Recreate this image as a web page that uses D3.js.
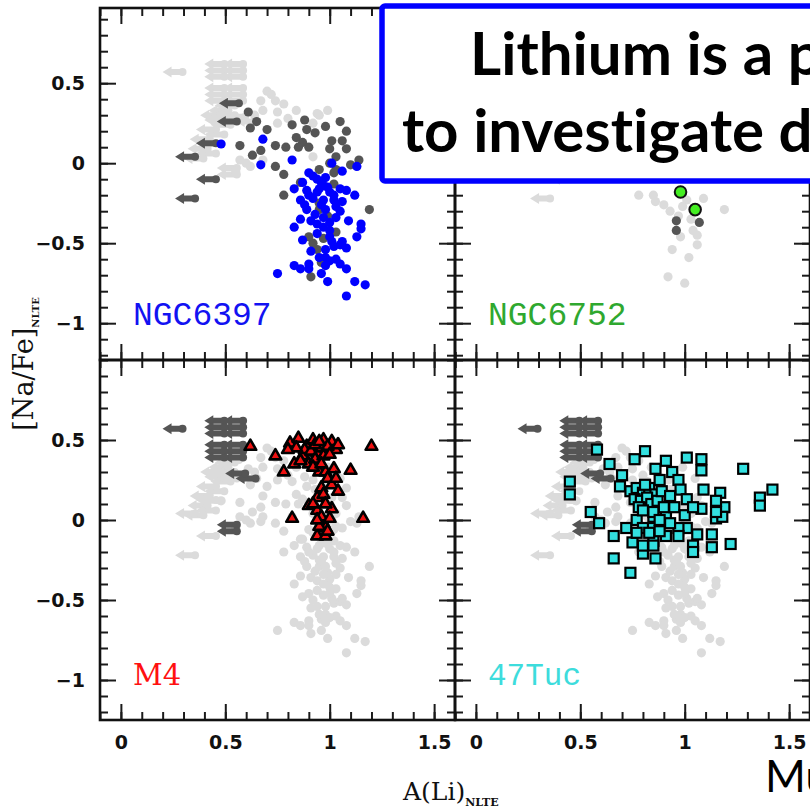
<!DOCTYPE html>
<html>
<head>
<meta charset="utf-8">
<script src="https://cdn.jsdelivr.net/npm/d3@7"></script>
<style>
  body { margin: 0; background: #fff; }
  svg { display: block; }
  .slide { font-variant-ligatures: none; font-feature-settings: "liga" 0; }
</style>
</head>
<body>
<svg id="chart" width="810" height="810"></svg>
<script>
// ---- data: [A(Li), [Na/Fe]] ----
var ngc6397 = [[0.48,0.12],[0.68,0.15],[0.67,-0.01],[0.82,0.02],[1.01,0.0],[1.06,-0.05],[1.13,-0.02],
  [0.90,-0.06],[0.87,-0.12],[0.94,-0.10],[0.98,-0.09],[0.83,-0.16],[0.89,-0.17],[0.95,-0.16],[1.0,-0.18],
  [1.05,-0.16],[1.08,-0.17],[1.12,-0.2],[0.86,-0.23],[0.92,-0.22],[0.97,-0.23],[1.02,-0.23],[1.06,-0.24],
  [0.89,-0.29],[0.98,-0.29],[1.05,-0.30],[0.86,-0.35],[0.91,-0.36],[0.94,-0.38],[1.0,-0.37],[1.09,-0.36],
  [1.15,-0.38],[1.15,-0.41],[0.83,-0.40],[1.0,-0.42],[0.87,-0.48],[1.13,-0.46],[0.91,-0.55],[0.98,-0.54],
  [1.02,-0.52],[1.05,-0.51],[1.08,-0.53],[0.98,-0.59],[1.03,-0.60],[0.98,-0.64],[0.90,-0.63],[0.83,-0.64],
  [0.86,-0.66],[1.08,-0.66],[0.75,-0.69],[0.99,-0.74],[1.12,-0.74],[1.17,-0.76],[1.08,-0.83],[0.94,-0.18],
  [0.97,-0.14],[1.02,-0.2],[0.94,-0.44],[1.01,-0.49],[1.06,-0.49],[0.95,-0.59],[1.0,-0.61],[0.9,-0.66],
  [1.05,-0.63],[0.96,-0.69],[0.92,-0.08],[0.96,-0.12],[0.99,-0.15],[0.9,-0.2],[0.96,-0.26],[1.03,-0.27],
  [0.93,-0.32],[0.97,-0.34],[1.03,-0.34],[0.88,-0.26],[1.0,-0.46],[0.97,-0.4]];

var greyDots = [[0.61,0.32],[0.65,0.26],[0.62,0.22],[0.70,0.21],[0.57,0.11],[0.63,0.05],[0.67,0.08],
  [0.74,0.11],[0.79,0.10],[0.74,-0.02],[0.78,-0.07],[0.82,0.24],[0.88,0.27],[0.89,0.21],[0.84,0.16],
  [0.87,0.13],[0.90,0.10],[0.98,0.23],[1.05,0.26],[1.08,0.20],[1.01,0.14],[1.06,0.14],[1.0,0.09],
  [1.08,0.09],[1.03,0.04],[1.14,0.02],[1.10,-0.01],[1.03,-0.04],[0.78,-0.2],[0.95,-0.04],[0.93,0.19],
  [0.85,0.10],[1.0,0.0],[1.19,-0.29],[0.97,-0.47],[1.03,-0.43],[0.94,-0.54],[0.91,-0.71],[0.86,-0.12],
  [0.95,-0.29],[1.02,-0.13],[0.95,-0.25],[0.99,-0.33],[1.02,-0.06],[0.92,-0.5],[0.96,-0.62],[0.9,-0.46]];

var paleDots = [[0.67,0.39],[0.70,0.45],[0.74,0.39],[0.78,0.37],[0.68,0.33],[0.75,0.32],[0.84,0.33],
  [0.94,0.31],[0.99,0.33],[0.62,-0.02],[0.57,0.02],[0.92,0.04],[0.95,0.3],[0.72,0.43],[0.64,0.3],
  [0.8,0.28],[0.75,0.25],[0.92,0.25],[0.55,-0.05],[0.6,0.0],[0.68,0.02]];

// upper limits (arrows), value = right end of the arrow
var limitsA = [[0.30,0.57],[0.50,0.62],[0.59,0.62],[0.50,0.58],[0.59,0.58],[0.50,0.54],[0.59,0.54],
  [0.50,0.47],[0.59,0.47],[0.50,0.43],[0.59,0.43],[0.50,0.39],[0.59,0.39],[0.60,0.29],[0.65,0.26],
  [0.56,-0.03],[0.56,-0.07]];
var limitsB = [[0.57,0.375],[0.56,0.26],[0.46,0.125],[0.36,0.04],[0.46,-0.10],[0.36,-0.22]];
var limitsC = [[0.55,0.36],[0.52,0.33],[0.48,0.30],[0.55,0.30],[0.50,0.27],[0.53,0.24],[0.46,0.21],
  [0.50,0.18],[0.43,0.15],[0.48,0.12],[0.42,0.09],[0.46,0.06],[0.40,0.03]];

var ngc6752 = [[0.98,-0.18],[1.05,-0.29]];
var ngc6752Grey = [[0.96,-0.36],[0.96,-0.42],[1.07,-0.37]];
var ngc6752Pale = [[0.78,-0.2],[0.85,-0.2],[0.86,-0.24],[1.09,-0.22],[1.01,-0.23],[1.04,-0.42],[1.06,-0.51],
  [0.94,-0.54],[1.02,-0.59],[1.19,-0.29],[0.92,-0.71],[1.0,-0.75],[0.98,-0.46],[0.99,-0.27],[1.06,-0.45],
  [0.93,-0.3],[0.97,-0.33],[1.03,-0.35],[0.9,-0.26],[1.05,-0.28]];

var m4 = [[0.62,0.46],[0.74,0.40],[0.78,0.30],[0.81,0.48],[0.85,0.51],[0.89,0.46],[0.83,0.35],[0.87,0.40],
  [0.92,0.50],[0.97,0.50],[1.01,0.49],[1.03,0.44],[0.94,0.42],[0.90,0.35],[0.95,0.30],[0.98,0.30],
  [1.02,0.32],[1.10,0.31],[1.20,0.46],[0.96,0.20],[1.01,0.22],[1.04,0.18],[0.94,0.14],[0.90,0.09],
  [0.94,0.06],[1.01,0.07],[0.82,0.01],[1.16,0.01],[0.97,-0.02],[0.98,-0.05],[0.94,-0.10],[0.98,-0.10],
  [0.95,-0.04],[0.88,0.44],[0.91,0.43],[0.96,0.45],[0.99,0.46],[0.93,0.47],[0.86,0.37],[0.93,0.38],
  [0.97,0.40],[1.0,0.41],[0.92,0.33],[0.96,0.35],[0.99,0.26],[1.03,0.26],[0.97,0.16],[0.92,0.1],
  [0.98,0.1],[0.96,0.02],[1.0,0.01],[0.99,-0.07],[0.94,0.0],[0.84,0.45],[0.8,0.44],[0.95,0.49],[1.04,0.47]];

var tuc47 = [[0.58,0.44],[0.64,0.35],[0.76,0.38],[0.81,0.43],[0.70,0.28],[0.69,0.21],[0.45,0.24],[0.45,0.16],
  [0.55,0.05],[0.59,-0.02],[0.66,-0.10],[0.66,-0.24],[0.74,-0.33],[0.72,-0.05],[0.75,-0.14],[0.77,0.0],
  [0.80,-0.21],[0.86,-0.24],[0.86,0.32],[0.91,0.37],[0.94,0.30],[0.97,0.25],[1.01,0.39],[1.08,0.38],
  [1.08,0.31],[0.98,0.19],[1.01,0.13],[1.08,0.07],[1.01,-0.05],[1.06,-0.09],[1.04,-0.16],[1.04,-0.2],
  [1.13,-0.09],[1.13,-0.17],[1.22,-0.15],[1.15,0.01],[1.19,0.08],[1.17,0.17],[1.28,0.32],[1.36,0.14],
  [1.36,0.09],[1.42,0.19],[0.97,-0.05],[0.97,-0.10],[0.91,0.02],[0.85,0.02],[0.84,-0.05],[0.80,-0.05],
  [0.85,-0.13],[0.91,-0.10],[0.80,-0.16],[0.85,-0.16],[1.09,0.19],[1.15,0.12],[1.18,0.02],[1.15,0.05],
  [0.74,0.18],[0.77,0.2],[0.8,0.17],[0.83,0.2],[0.86,0.16],[0.76,0.13],[0.79,0.12],[0.82,0.14],
  [0.84,0.10],[0.87,0.12],[0.89,0.18],[0.9,0.08],[0.81,0.22],[0.78,0.08],[0.93,0.15],[0.88,0.25],
  [0.85,0.05],[0.8,0.06],[0.88,0.0],[0.83,-0.08],[0.77,-0.08],[0.88,-0.07],[0.93,-0.02],[0.95,0.08],
  [1.0,0.03],[1.04,0.08]];

var xMajor = [0, 0.5, 1, 1.5];
var yMajor = [-1, -0.5, 0, 0.5];
var xDomain = [-0.1, 1.6];

var PALE = "#dbdbdb", GREY = "#555555";

var svg = d3.select("#chart");

var colLeft = [100, 455], panelW = 355;
var rows = [
  {domain: [-1.23, 0.97], range: [360, 8]},
  {domain: [-1.25, 1.0], range: [720, 360]}
];

var panels = [
  {col: 0, row: 0, name: "NGC6397", color: "#1212f2", font: "Liberation Mono", size: 33,
   layers: [["arrow", limitsA, PALE], ["arrow", limitsC, PALE], ["dot", paleDots, PALE],
            ["arrow", limitsB, GREY], ["dot", greyDots, GREY], ["dot", ngc6397, "#0000ff"]]},
  {col: 1, row: 0, name: "NGC6752", color: "#2fa82f", font: "Liberation Mono", size: 33,
   layers: [["arrow", limitsB, PALE], ["dot", ngc6752Pale, PALE], ["dot", ngc6752Grey, GREY],
            ["ring", ngc6752, "#44ee22"]]},
  {col: 0, row: 1, name: "M4", color: "#ff1010", font: "DejaVu Serif", size: 29,
   layers: [["arrow", limitsC, PALE], ["arrow", limitsB, PALE], ["dot", paleDots, PALE],
            ["dot", greyDots, PALE], ["dot", ngc6397, PALE], ["arrow", limitsA, GREY],
            ["tri", m4, "#ee1111"]]},
  {col: 1, row: 1, name: "47Tuc", color: "#3ddcdc", font: "Liberation Mono", size: 31,
   layers: [["arrow", limitsC, PALE], ["arrow", limitsB, PALE], ["dot", paleDots, PALE],
            ["dot", greyDots, PALE], ["dot", ngc6397, PALE], ["arrow", limitsA, GREY],
            ["square", tuc47, "#33e0e0"]]}
];

function arrowPath(px, py) {
  return "M" + px + "," + (py - 3) + "L" + (px - 12) + "," + (py - 3) + "L" + (px - 12) + "," + (py - 5.5) +
    "L" + (px - 21) + "," + py + "L" + (px - 12) + "," + (py + 5.5) + "L" + (px - 12) + "," + (py + 3) +
    "L" + px + "," + (py + 3) + "Z";
}

function drawLayer(g, kind, data, fill, x, y) {
  var sel = g.append("g");
  if (kind == "dot") {
    sel.selectAll("circle").data(data).join("circle")
      .attr("cx", d => x(d[0])).attr("cy", d => y(d[1])).attr("r", 4.6).attr("fill", fill);
  } else if (kind == "arrow") {
    sel.selectAll("path").data(data).join("path")
      .attr("d", d => arrowPath(x(d[0]), y(d[1]))).attr("fill", fill);
    sel.selectAll("circle").data(data).join("circle")
      .attr("cx", d => x(d[0]) - 1).attr("cy", d => y(d[1])).attr("r", 4).attr("fill", fill);
  } else if (kind == "ring") {
    sel.selectAll("circle").data(data).join("circle")
      .attr("cx", d => x(d[0])).attr("cy", d => y(d[1])).attr("r", 5.8)
      .attr("fill", fill).attr("stroke", "#111").attr("stroke-width", 2);
  } else if (kind == "tri") {
    var tri = d3.symbol(d3.symbolTriangle, 60);
    sel.selectAll("path").data(data).join("path")
      .attr("transform", d => "translate(" + x(d[0]) + "," + y(d[1]) + ")")
      .attr("d", tri).attr("fill", fill).attr("stroke", "#000").attr("stroke-width", 2.6)
      .attr("stroke-linejoin", "round");
  } else if (kind == "square") {
    sel.selectAll("rect").data(data).join("rect")
      .attr("x", d => x(d[0]) - 5).attr("y", d => y(d[1]) - 5).attr("width", 10).attr("height", 10)
      .attr("fill", fill).attr("stroke", "#000").attr("stroke-width", 2.2);
  }
}

function tickAxis(g, axis, tx, ty) {
  g.append("g").attr("transform", "translate(" + tx + "," + ty + ")")
    .call(axis)
    .call(a => a.select(".domain").remove())
    .call(a => a.selectAll("line").attr("stroke", "#1a1a1a").attr("stroke-width", 2));
}

function drawFrame(g, x, y, withX, withY) {
  var xr = x.range(), yr = y.range();
  var yd = y.domain();
  var xMinor = d3.range(-1, 17).map(i => i / 10);
  var yMinor = d3.range(Math.ceil(yd[0] * 10), Math.floor(yd[1] * 10) + 1).map(i => i / 10);

  [[xMinor, 8], [xMajor, 16]].forEach(function (t) {
    tickAxis(g, d3.axisTop(x).tickValues(t[0]).tickSize(t[1]).tickFormat(""), 0, yr[0]);
    tickAxis(g, d3.axisBottom(x).tickValues(t[0]).tickSize(t[1]).tickFormat(""), 0, yr[1]);
  });
  [[yMinor, 8], [yMajor, 16]].forEach(function (t) {
    tickAxis(g, d3.axisRight(y).tickValues(t[0]).tickSize(t[1]).tickFormat(""), xr[0], 0);
    tickAxis(g, d3.axisLeft(y).tickValues(t[0]).tickSize(t[1]).tickFormat(""), xr[1], 0);
  });

  g.append("rect").attr("x", xr[0]).attr("y", yr[1])
    .attr("width", xr[1] - xr[0]).attr("height", yr[0] - yr[1])
    .attr("fill", "none").attr("stroke", "#111").attr("stroke-width", 2.6);

  var fmt = d3.format("");
  if (withY) {
    g.append("g").attr("transform", "translate(" + xr[0] + ",0)")
      .call(d3.axisLeft(y).tickValues(yMajor).tickSize(0).tickPadding(15).tickFormat(fmt))
      .call(a => a.select(".domain").remove())
      .selectAll("text").attr("font-family", "DejaVu Sans").attr("font-weight", "bold")
      .attr("font-size", 19).attr("fill", "#111");
  }
  if (withX) {
    g.append("g").attr("transform", "translate(0," + yr[0] + ")")
      .call(d3.axisBottom(x).tickValues(xMajor).tickSize(0).tickPadding(16).tickFormat(fmt))
      .call(a => a.select(".domain").remove())
      .selectAll("text").attr("font-family", "DejaVu Sans").attr("font-weight", "bold")
      .attr("font-size", 19).attr("fill", "#111");
  }
}

panels.forEach(function (p) {
  var x = d3.scaleLinear().domain(xDomain).range([colLeft[p.col], colLeft[p.col] + panelW]);
  var y = d3.scaleLinear().domain(rows[p.row].domain).range(rows[p.row].range);
  var g = svg.append("g").attr("class", "panel");
  p.layers.forEach(l => drawLayer(g, l[0], l[1], l[2], x, y));
  drawFrame(g, x, y, p.row == 1, p.col == 0);
  g.append("text").attr("x", colLeft[p.col] + 33).attr("y", rows[p.row].range[0] - 35)
    .attr("font-family", p.font).attr("font-size", p.size).attr("fill", p.color)
    .text(p.name);
});

// axis titles
var yt = svg.append("text").attr("transform", "translate(33,364) rotate(-90)")
  .attr("text-anchor", "middle").attr("font-family", "DejaVu Serif").attr("font-size", 27).attr("fill", "#111");
yt.append("tspan").text("[Na/Fe]");
yt.append("tspan").attr("dy", 6).attr("font-size", 10).attr("font-weight", "bold").text("NLTE");

var xt = svg.append("text").attr("x", 403).attr("y", 800)
  .attr("font-family", "DejaVu Serif").attr("font-size", 25).attr("fill", "#111");
xt.append("tspan").text("A(Li)");
xt.append("tspan").attr("dy", 6).attr("font-size", 11).attr("font-weight", "bold").text("NLTE");

// overlaid slide text box
svg.append("rect").attr("x", 382).attr("y", 6).attr("width", 450).attr("height", 175).attr("rx", 3)
  .attr("fill", "#fff").attr("stroke", "#0000ff").attr("stroke-width", 5.5);
svg.append("text").attr("class", "slide").attr("x", 470).attr("y", 75)
  .attr("font-family", "Lato").attr("font-weight", "bold").attr("font-size", 60).attr("fill", "#000")
  .text("Lithium is a p");
svg.append("text").attr("class", "slide").attr("x", 402).attr("y", 152)
  .attr("font-family", "Lato").attr("font-weight", "bold").attr("font-size", 60).attr("fill", "#000")
  .text("to investigate d");
svg.append("text").attr("class", "slide").attr("x", 765).attr("y", 792)
  .attr("font-family", "Lato").attr("font-size", 44).attr("fill", "#000")
  .text("Mu");
</script>
</body>
</html>
